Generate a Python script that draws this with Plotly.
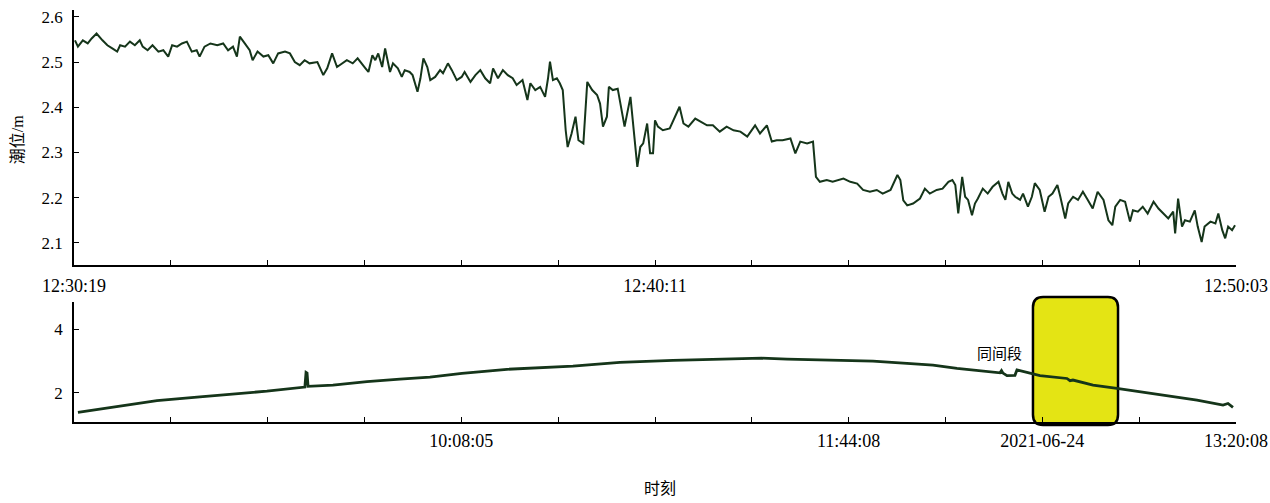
import plotly.graph_objects as go

# ---------------- data ----------------
# Upper panel: tide level, seconds after 12:30:19
top_start_label = "12:30:19"
top_span_s = 1184  # 12:30:19 -> 12:50:03
top_t = [1, 4, 9, 14, 18, 23, 29, 34, 39, 44, 47, 52, 57, 62, 67, 70, 75, 80, 86, 91,
         96, 100, 105, 110, 115, 120, 125, 128, 133, 139, 146, 152, 157, 162, 166, 169, 174, 179, 182, 187,
         193, 198, 203, 208, 215, 220, 225, 230, 235, 240, 248, 254, 258, 263, 268, 273, 278, 284, 289, 297,
         300, 304, 307, 310, 314, 317, 319, 322, 325, 330, 334, 337, 342, 345, 350, 353, 356, 360, 363, 368,
         373, 376, 381, 385, 390, 395, 398, 404, 409, 414, 419, 424, 427, 432, 437, 442, 447, 451, 457, 462,
         465, 470, 475, 480, 483, 485, 488, 492, 495, 498, 501, 503, 507, 511, 514, 518, 519, 523, 528, 533,
         536, 539, 543, 545, 549, 554, 558, 561, 567, 570, 574, 577, 580, 584, 587, 590, 592, 595, 600, 607,
         612, 617, 621, 626, 633, 638, 645, 651, 658, 665, 672, 679, 686, 694, 699, 706, 711, 716, 722, 730,
         735, 740, 747, 753, 756, 760, 767, 773, 784, 791, 798, 804, 811, 818, 824, 832, 839, 842, 845, 849,
         855, 862, 867, 872, 879, 885, 891, 895, 898, 901, 905, 908, 911, 915, 918, 921, 926, 931, 936, 942,
         946, 949, 952, 956, 959, 964, 967, 972, 976, 979, 984, 989, 993, 997, 1002, 1005, 1010, 1013, 1018, 1023,
         1028, 1033, 1038, 1043, 1049, 1054, 1058, 1061, 1066, 1071, 1076, 1079, 1084, 1089, 1094, 1100, 1105, 1110, 1115, 1120,
         1122, 1125, 1129, 1132, 1137, 1142, 1145, 1149, 1152, 1158, 1163, 1166, 1170, 1173, 1176, 1180, 1183]
top_level = [2.548, 2.534, 2.548, 2.541, 2.552, 2.563, 2.548, 2.537, 2.530, 2.523, 2.537, 2.534, 2.545, 2.537, 2.548, 2.534, 2.526, 2.537, 2.523, 2.526,
             2.512, 2.537, 2.534, 2.541, 2.545, 2.523, 2.526, 2.512, 2.534, 2.541, 2.537, 2.541, 2.526, 2.534, 2.512, 2.556, 2.541, 2.526, 2.504, 2.523,
             2.512, 2.515, 2.497, 2.519, 2.523, 2.519, 2.500, 2.493, 2.504, 2.497, 2.500, 2.471, 2.486, 2.519, 2.489, 2.497, 2.504, 2.497, 2.508, 2.486,
             2.478, 2.515, 2.504, 2.519, 2.489, 2.530, 2.512, 2.478, 2.497, 2.486, 2.467, 2.482, 2.478, 2.471, 2.434, 2.464, 2.508, 2.489, 2.460, 2.467,
             2.482, 2.475, 2.497, 2.482, 2.460, 2.467, 2.478, 2.456, 2.471, 2.482, 2.464, 2.453, 2.486, 2.464, 2.482, 2.471, 2.464, 2.449, 2.460, 2.416,
             2.453, 2.438, 2.445, 2.423, 2.464, 2.501, 2.460, 2.464, 2.453, 2.438, 2.349, 2.312, 2.342, 2.379, 2.327, 2.320, 2.320, 2.456, 2.438, 2.427,
             2.408, 2.357, 2.379, 2.445, 2.438, 2.441, 2.393, 2.357, 2.423, 2.349, 2.268, 2.312, 2.320, 2.364, 2.298, 2.298, 2.371, 2.357, 2.349, 2.353,
             2.379, 2.401, 2.364, 2.357, 2.375, 2.368, 2.360, 2.360, 2.346, 2.357, 2.349, 2.346, 2.335, 2.360, 2.342, 2.360, 2.324, 2.327, 2.327, 2.331,
             2.298, 2.324, 2.320, 2.324, 2.246, 2.235, 2.239, 2.235, 2.242, 2.235, 2.231, 2.217, 2.213, 2.217, 2.209, 2.217, 2.250, 2.239, 2.194, 2.183,
             2.187, 2.198, 2.220, 2.209, 2.217, 2.220, 2.235, 2.239, 2.228, 2.165, 2.246, 2.202, 2.195, 2.161, 2.187, 2.198, 2.220, 2.209, 2.224, 2.235,
             2.209, 2.195, 2.235, 2.209, 2.202, 2.195, 2.209, 2.180, 2.202, 2.232, 2.217, 2.169, 2.202, 2.209, 2.228, 2.202, 2.154, 2.187, 2.202, 2.195,
             2.213, 2.195, 2.176, 2.213, 2.195, 2.150, 2.139, 2.180, 2.195, 2.191, 2.147, 2.172, 2.169, 2.180, 2.165, 2.191, 2.176, 2.165, 2.154, 2.169,
             2.121, 2.198, 2.136, 2.150, 2.147, 2.172, 2.136, 2.102, 2.136, 2.147, 2.143, 2.165, 2.128, 2.110, 2.136, 2.128, 2.139]
top_tick_labels = ["12:30:19", "", "", "", "", "", "12:40:11", "", "", "", "", "", "12:50:03"]
top_y_ticks = [2.1, 2.2, 2.3, 2.4, 2.5, 2.6]

# Lower panel: whole-day tide level, seconds of day
bot_t = [30782, 31362, 31957, 32596, 33087, 33593, 34158, 34175, 34190, 34205, 34575, 35081, 35572, 36018,
         36494, 37163, 38145, 38844, 39633, 40332, 40957, 41329, 42266, 42608, 43114, 43500, 43858, 44200,
         44497, 44520, 44542, 44601, 44720, 44750, 44899, 45092, 45494, 45539, 45583, 45881, 46237, 46580,
         47071, 47428, 47815, 47889, 47963]
bot_level = [1.38, 1.56, 1.75, 1.87, 1.95, 2.05, 2.18, 2.64, 2.62, 2.20, 2.24, 2.35, 2.43, 2.49,
             2.61, 2.74, 2.84, 2.96, 3.02, 3.05, 3.09, 3.06, 3.01, 3.00, 2.93, 2.87, 2.77, 2.69,
             2.63, 2.70, 2.62, 2.54, 2.55, 2.72, 2.64, 2.54, 2.45, 2.38, 2.40, 2.24, 2.14, 2.03,
             1.87, 1.77, 1.61, 1.66, 1.54]
bot_tick_labels = ["", "", "", "", "10:08:05", "", "", "", "11:44:08", "", "2021-06-24", "", "13:20:08"]
bot_label_first_s = 36485   # 10:08:05
bot_label_last_s = 48008    # 13:20:08
bot_y_ticks = [2, 4]
highlight_start_s = 44988
highlight_end_s = 46253
note_text = "同间段"
note_t, note_level = 44497, 3.28

# ---------------- figure ----------------
LINE = "#15351a"
SERIF = "Liberation Serif, Times New Roman, serif"
CJK = "Liberation Serif, Noto Sans CJK SC, serif"

n_int = len(top_tick_labels) - 1
top_ticks = [top_span_s * k / n_int for k in range(n_int + 1)]
step_b = (bot_label_last_s - bot_label_first_s) / 8
bot_ticks = [bot_label_first_s + (k - 4) * step_b for k in range(n_int + 1)]

fig = go.Figure()
fig.add_trace(go.Scatter(x=top_t, y=top_level, mode="lines", xaxis="x", yaxis="y",
                         line=dict(color=LINE, width=2), showlegend=False))
fig.add_trace(go.Scatter(x=bot_t, y=bot_level, mode="lines", xaxis="x2", yaxis="y2",
                         line=dict(color=LINE, width=2.8), showlegend=False))

axis_common = dict(showline=True, linecolor="black", linewidth=1.5, ticks="inside",
                   ticklen=5, tickwidth=1.2, tickcolor="black", showgrid=False,
                   zeroline=False, mirror=False, automargin=False,
                   ticklabeloverflow="allow")

fig.update_layout(
    width=1270, height=503,
    margin=dict(l=74, r=34, t=10, b=81),
    paper_bgcolor="white", plot_bgcolor="rgba(0,0,0,0)",
    xaxis=dict(domain=[0, 1], anchor="y", range=[0, top_span_s],
               tickmode="array", tickvals=top_ticks, ticktext=top_tick_labels, ticklabelstandoff=4,
               tickfont=dict(family=SERIF, size=18, color="black"), **axis_common),
    yaxis=dict(domain=[0.381, 1], anchor="x", range=[2.051, 2.615],
               tickmode="array", tickvals=top_y_ticks,
               ticktext=[f"{v:.1f}" for v in top_y_ticks], ticklabelstandoff=6,
               tickfont=dict(family=SERIF, size=17, color="black"), **axis_common),
    xaxis2=dict(domain=[0, 1], anchor="y2", range=[bot_ticks[0], bot_ticks[-1]],
                tickmode="array", tickvals=bot_ticks, ticktext=bot_tick_labels, ticklabelstandoff=2,
                tickfont=dict(family=SERIF, size=18, color="black"), **axis_common),
    yaxis2=dict(domain=[0, 0.291], anchor="x2", range=[1.076, 4.861],
                tickmode="array", tickvals=bot_y_ticks,
                ticktext=[str(v) for v in bot_y_ticks], ticklabelstandoff=6,
                tickfont=dict(family=SERIF, size=17, color="black"), **axis_common),
)

# rounded highlight box (x in data, y in paper)
x0, x1 = highlight_start_s, highlight_end_s
y0, y1 = -0.0073, 0.3034
rx, ry = 150, 0.025
path = (f"M {x0 + rx},{y0} L {x1 - rx},{y0} Q {x1},{y0} {x1},{y0 + ry} "
        f"L {x1},{y1 - ry} Q {x1},{y1} {x1 - rx},{y1} L {x0 + rx},{y1} "
        f"Q {x0},{y1} {x0},{y1 - ry} L {x0},{y0 + ry} Q {x0},{y0} {x0 + rx},{y0} Z")
fig.add_shape(type="path", path=path, xref="x2", yref="paper", layer="below",
              fillcolor="#e4e414", line=dict(color="black", width=2.5))

fig.add_annotation(x=note_t, y=note_level, xref="x2", yref="y2", text=note_text,
                   showarrow=False, font=dict(family="Noto Sans CJK SC", size=15, color="black"))
fig.add_annotation(x=-0.049, y=0.684, xref="paper", yref="paper", text="潮位/m",
                   textangle=-90, showarrow=False, xanchor="center", yanchor="middle",
                   font=dict(family=CJK, size=16, color="black"))
fig.add_annotation(x=0.504, y=-0.158, xref="paper", yref="paper", text="时刻",
                   showarrow=False, xanchor="center", yanchor="middle",
                   font=dict(family="Noto Sans CJK SC", size=16, color="black"))

fig.write_html("out.html")
